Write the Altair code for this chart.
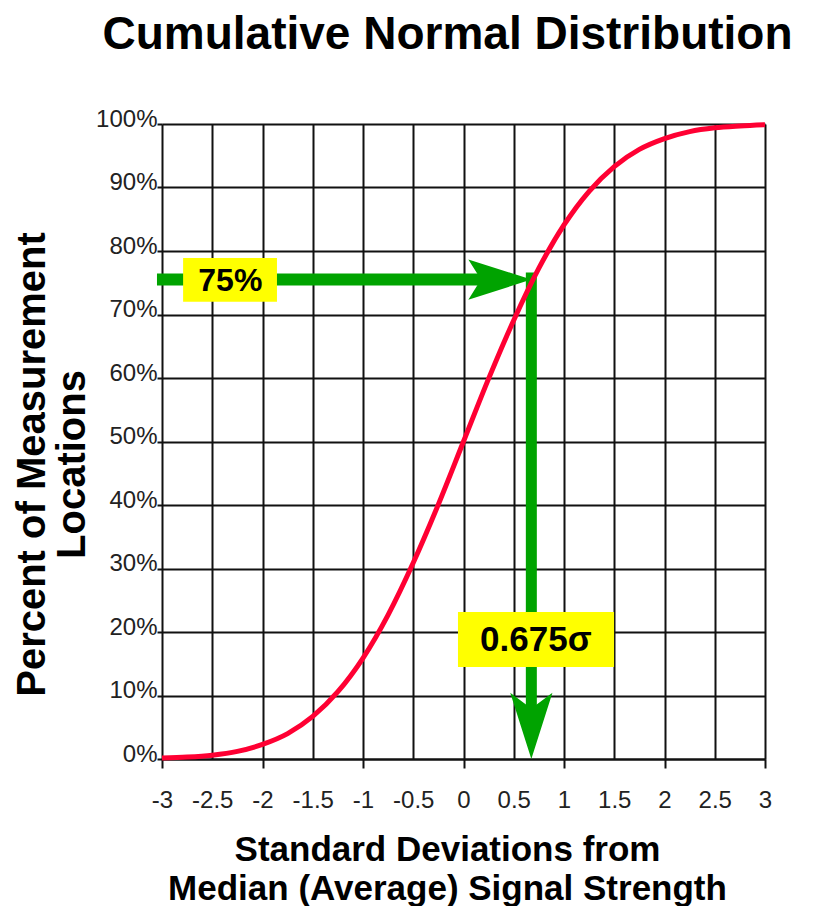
import altair as alt
import pandas as pd

# Curve values (percent)
sd_values = [-3, -2.75, -2.5, -2.25, -2, -1.75, -1.5, -1.25, -1, -0.75, -0.5, -0.25,
             0, 0.25, 0.5, 0.75, 1, 1.25, 1.5, 1.75, 2, 2.25, 2.5, 2.75, 3]
pct_values = [0.15, 0.3, 0.6, 1.2, 2.3, 4.0, 6.7, 10.6, 15.9, 22.7, 30.9, 40.1,
              50.0, 59.9, 69.1, 77.3, 84.1, 89.4, 93.3, 96.0, 97.7, 98.8, 99.4, 99.7, 99.9]

x_ticks = [-3, -2.5, -2, -1.5, -1, -0.5, 0, 0.5, 1, 1.5, 2, 2.5, 3]
y_ticks = [0, 10, 20, 30, 40, 50, 60, 70, 80, 90, 100]

# Annotation values
target_pct = 75.5
target_sd = 0.675
h_arrow_start = -3.05
h_shaft_end = 0.35
v_shaft_top = 76.6
v_shaft_end = 6.0

label_boxes_x = [-2.79, -0.055]
label_boxes_x2 = [-1.856, 1.498]
label_boxes_y = [78.9, 23.15]
label_boxes_y2 = [72.0, 14.5]
label_text = ["75%", "0.675σ"]
label_text_x = [-2.32, 0.72]
label_text_y = [75.3, 18.8]
label_size = [32, 35]

curve_df = pd.DataFrame({"sd": sd_values, "pct": pct_values})
GREEN = "#00a300"
FONT = "Liberation Sans"

x_scale = alt.Scale(domain=[-3, 3], nice=False, zero=False)
y_scale = alt.Scale(domain=[0, 100], nice=False, zero=False)

x_axis = alt.Axis(
    values=x_ticks, labelExpr="'' + datum.value", grid=True, gridColor="#111",
    gridWidth=2, gridOpacity=1, domain=True, domainColor="#111", domainWidth=2,
    tickColor="#111", tickWidth=2, tickSize=9,
    tickOpacity={"condition": {"test": "datum.value % 1 !== 0", "value": 0}, "value": 1},
    labelFont=FONT, labelFontSize=24, labelColor="#222", labelPadding=20,
    labelFlush=False,
    title=["Standard Deviations from", "Median (Average) Signal Strength"],
    titleFont=FONT, titleFontSize=35, titleFontWeight="bold", titleColor="#000",
    titleLineHeight=39, titleX=285, titleY=73, titleAlign="center", titleBaseline="top",
)
y_axis = alt.Axis(
    values=y_ticks, labelExpr="datum.value + '%'", grid=True, gridColor="#111",
    gridWidth=2, gridOpacity=1, domain=False, tickColor="#111", tickWidth=2,
    tickSize=5, labelFont=FONT, labelFontSize=24, labelColor="#222",
    labelPadding=0, labelOffset=-5, labelFlush=False,
    title=["Percent of Measurement", "Locations"],
    titleFont=FONT, titleFontSize=40, titleFontWeight="bold", titleColor="#000",
    titleLineHeight=40, titleX=-150, titleY=340, titleAlign="center",
    titleBaseline="top", titleAngle=-90,
)

h_shaft_df = pd.DataFrame({"x": [h_arrow_start], "x2": [h_shaft_end], "y": [target_pct]})
v_shaft_df = pd.DataFrame({"x": [target_sd], "y": [v_shaft_top], "y2": [v_shaft_end]})
h_head_df = pd.DataFrame({"x": [target_sd], "y": [target_pct]})
v_head_df = pd.DataFrame({"x": [target_sd], "y": [0]})
box_df = pd.DataFrame({"x": label_boxes_x, "x2": label_boxes_x2,
                       "y": label_boxes_y, "y2": label_boxes_y2})
text_df = pd.DataFrame({"x": label_text_x, "y": label_text_y, "t": label_text,
                        "s": label_size})

base_axes = alt.Chart(curve_df).mark_line(opacity=0).encode(
    x=alt.X("sd:Q", scale=x_scale, axis=x_axis),
    y=alt.Y("pct:Q", scale=y_scale, axis=y_axis),
)

h_shaft = alt.Chart(h_shaft_df).mark_rule(color=GREEN, strokeWidth=12).encode(
    x=alt.X("x:Q", scale=x_scale), x2="x2:Q", y=alt.Y("y:Q", scale=y_scale))
v_shaft = alt.Chart(v_shaft_df).mark_rule(color=GREEN, strokeWidth=11).encode(
    x=alt.X("x:Q", scale=x_scale), y=alt.Y("y:Q", scale=y_scale), y2="y2:Q")

h_head = alt.Chart(h_head_df).mark_point(
    shape="M 0 0 L -2 -0.64 L -1.6 0 L -2 0.64 Z", filled=True, size=3969,
    color=GREEN, opacity=1, strokeWidth=0,
).encode(x=alt.X("x:Q", scale=x_scale), y=alt.Y("y:Q", scale=y_scale))
v_head = alt.Chart(v_head_df).mark_point(
    shape="M 0 0 L -0.67 -2.1 L 0 -1.6 L 0.67 -2.1 Z", filled=True, size=3969,
    color=GREEN, opacity=1, strokeWidth=0,
).encode(x=alt.X("x:Q", scale=x_scale), y=alt.Y("y:Q", scale=y_scale))

curve = alt.Chart(curve_df).mark_line(color="#ff0033", strokeWidth=5,
                                      interpolate="monotone").encode(
    x=alt.X("sd:Q", scale=x_scale), y=alt.Y("pct:Q", scale=y_scale))

boxes = alt.Chart(box_df).mark_rect(color="#ffff00", opacity=1).encode(
    x=alt.X("x:Q", scale=x_scale), x2="x2:Q",
    y=alt.Y("y:Q", scale=y_scale), y2="y2:Q")

texts = alt.Chart(text_df).mark_text(font=FONT, fontWeight="bold", color="#000",
                                     align="center", baseline="middle").encode(
    x=alt.X("x:Q", scale=x_scale), y=alt.Y("y:Q", scale=y_scale), text="t:N",
    size=alt.Size("s:Q", scale=None, legend=None))

chart = alt.layer(base_axes, h_shaft, v_shaft, h_head, v_head, curve, boxes, texts).properties(
    width=603, height=635,
    title=alt.TitleParams("Cumulative Normal Distribution", font=FONT, fontSize=46,
                          fontWeight="bold", color="#000", anchor="middle", dx=-16,
                          offset=48),
    autosize=alt.AutoSizeParams(type="none"),
    padding={"left": 154, "top": 116, "right": 42, "bottom": 147},
).configure_view(stroke=None).configure(background="white")

chart.save("out.html", embed_options={"renderer": "svg", "actions": False})
